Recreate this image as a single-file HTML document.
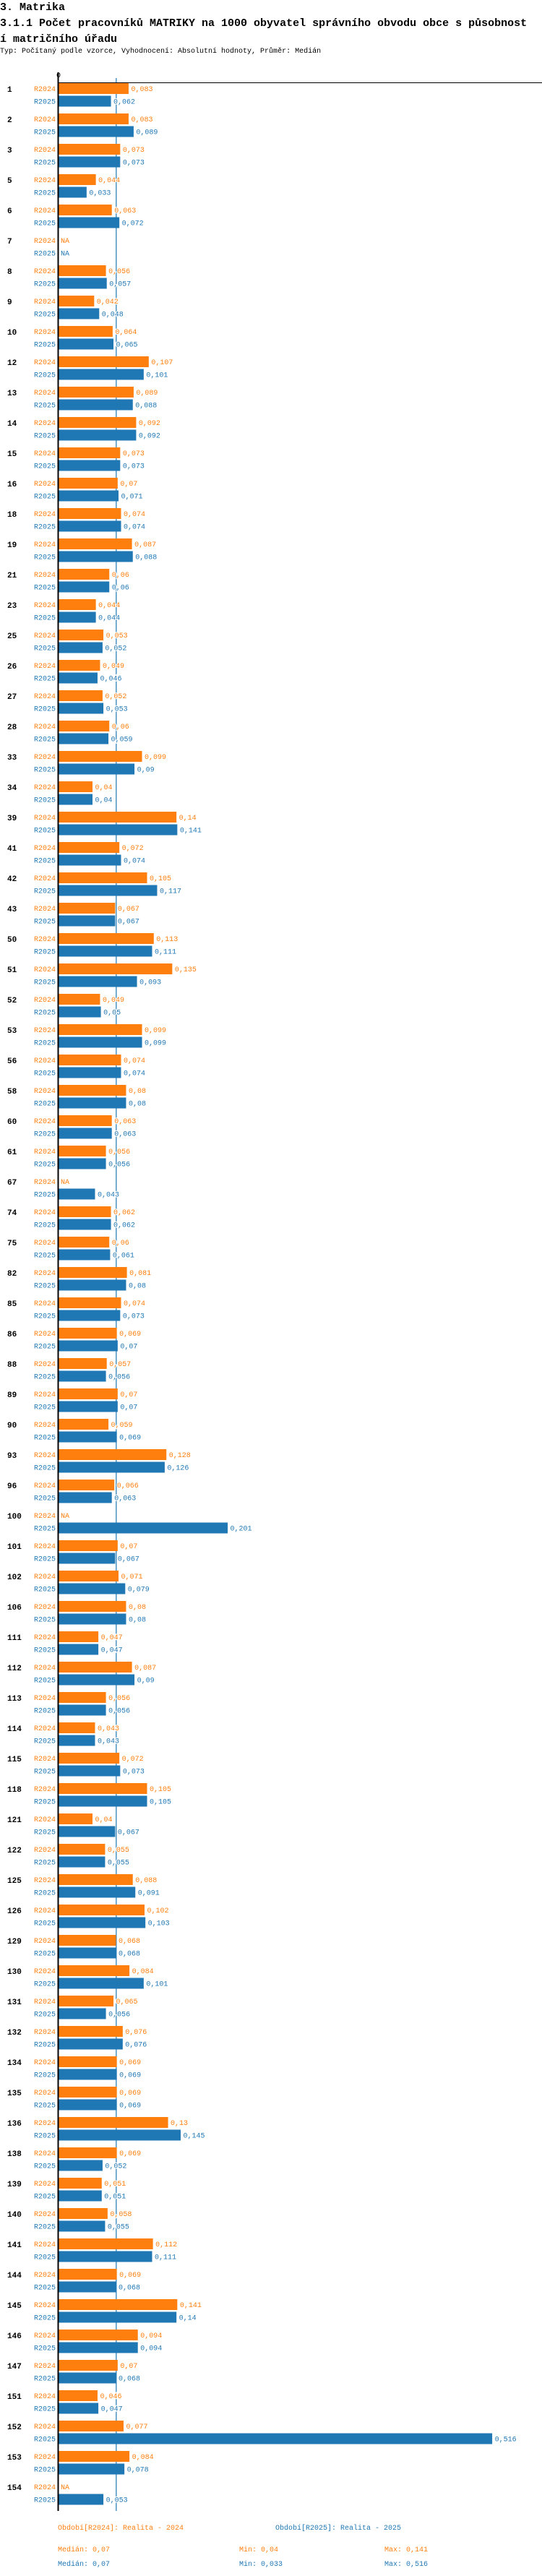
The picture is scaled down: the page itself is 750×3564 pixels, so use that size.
<!DOCTYPE html>
<html><head><meta charset="utf-8">
<style>
body{margin:0;background:#fff;width:750px;height:3564px;overflow:hidden;font-family:"Liberation Mono",monospace;}
.h1{position:absolute;left:0;top:0;font-size:15px;font-weight:bold;white-space:pre;line-height:22px;}
.sub{position:absolute;left:0;top:66px;font-size:10px;white-space:pre;}
svg{position:absolute;left:0;top:0;}
svg text{font-family:"Liberation Mono",monospace;}
</style></head><body>
<div class="h1">3. Matrika
3.1.1 Počet pracovníků MATRIKY na 1000 obyvatel správního obvodu obce s působnost
í matričního úřadu</div>
<div class="sub">Typ: Počítaný podle vzorce, Vyhodnocení: Absolutní hodnoty, Průměr: Medián</div>
<svg id="chart" width="750" height="3564"></svg>
<script>
const categories=["1","2","3","5","6","7","8","9","10","12","13","14","15","16","18","19","21","23","25","26","27","28","33","34","39","41","42","43","50","51","52","53","56","58","60","61","67","74","75","82","85","86","88","89","90","93","96","100","101","102","106","111","112","113","114","115","118","121","122","125","126","129","130","131","132","134","135","136","138","139","140","141","144","145","146","147","151","152","153","154"];
const values2024=[.083,.083,.073,.044,.063,null,.056,.042,.064,.107,.089,.092,.073,.07,.074,.087,.06,.044,.053,.049,.052,.06,.099,.04,.14,.072,.105,.067,.113,.135,.049,.099,.074,.08,.063,.056,null,.062,.06,.081,.074,.069,.057,.07,.059,.128,.066,null,.07,.071,.08,.047,.087,.056,.043,.072,.105,.04,.055,.088,.102,.068,.084,.065,.076,.069,.069,.13,.069,.051,.058,.112,.069,.141,.094,.07,.046,.077,.084,null];
const values2025=[.062,.089,.073,.033,.072,null,.057,.048,.065,.101,.088,.092,.073,.071,.074,.088,.06,.044,.052,.046,.053,.059,.09,.04,.141,.074,.117,.067,.111,.093,.05,.099,.074,.08,.063,.056,.043,.062,.061,.08,.073,.07,.056,.07,.069,.126,.063,.201,.067,.079,.08,.047,.09,.056,.043,.073,.105,.067,.055,.091,.103,.068,.101,.056,.076,.069,.069,.145,.052,.051,.055,.111,.068,.14,.094,.068,.047,.516,.078,.053];
const seriesNames=["R2024","R2025"];
const median=0.07;
const legendStats=[["Medián: 0,07","Min: 0,04","Max: 0,141"],["Medián: 0,07","Min: 0,033","Max: 0,516"]];

const NS="http://www.w3.org/2000/svg";
const svg=document.getElementById('chart');
const X0=81.5, SCALE=1162;
const x=v=>X0+v*SCALE;
const yGroup=i=>123+i*42;
const colors=["#ff7f0e","#1f77b4"];
function el(tag,attrs,text){const e=document.createElementNS(NS,tag);for(const k in attrs)e.setAttribute(k,attrs[k]);if(text!=null)e.textContent=text;svg.appendChild(e);return e;}
const fmt=v=>String(v).replace('.',',');
const bottom=yGroup(categories.length-1)+33;

// median line
let m=el('line',{x1:x(median)-2,x2:x(median)-2,y1:108,y2:bottom,stroke:"#1f77b4","stroke-width":1.2});



categories.forEach((c,i)=>{
  const yc=yGroup(i);
  let t=el('text',{x:10,y:yc+4,"font-size":11,"font-weight":"bold",fill:"#000"},c);
  
  
  [values2024,values2025].forEach((arr,s)=>{
    const v=arr[i];
    const top=s===0?yc-8:yc+9.5;
    const mid=top+7.5;
    let lab=el('text',{x:77,y:mid+3.5,"font-size":10,fill:colors[s],"text-anchor":"end"},seriesNames[s]);
    
    
    if(v==null){
      let na=el('text',{x:84,y:mid+3.5,"font-size":10,fill:colors[s]},"NA");
      
      
      return;
    }
    let r=el('rect',{x:X0,y:top,width:x(v)-X0,height:15,fill:colors[s]});
    
    
    let vl=el('text',{x:x(v)+3.5,y:mid+3.5,"font-size":10,fill:colors[s],stroke:"#fff","stroke-width":2.5,"paint-order":"stroke"},fmt(v));
    
    
  });
});

// axes
let ax=el('line',{x1:80.5,x2:80.5,y1:100,y2:bottom,stroke:"#000","stroke-width":2});


let hx=el('line',{x1:80,x2:750,y1:114.5,y2:114.5,stroke:"#000","stroke-width":1});


let zt=el('text',{x:78,y:107,"font-size":10,fill:"#000"},"0");



// legend
const lgY=bottom+26;
let l1=el('text',{x:80,y:lgY,"font-size":10,fill:colors[0]},"Období[R2024]: Realita - 2024");


let l2=el('text',{x:381,y:lgY,"font-size":10,fill:colors[1]},"Období[R2025]: Realita - 2025");


const colX=[80,331,532];
legendStats.forEach((row,s)=>{
  row.forEach((txt,j)=>{
    let st=el('text',{x:colX[j],y:lgY+30+s*20,"font-size":10,fill:colors[s]},txt);
    
    
  });
});
</script>
</body></html>
